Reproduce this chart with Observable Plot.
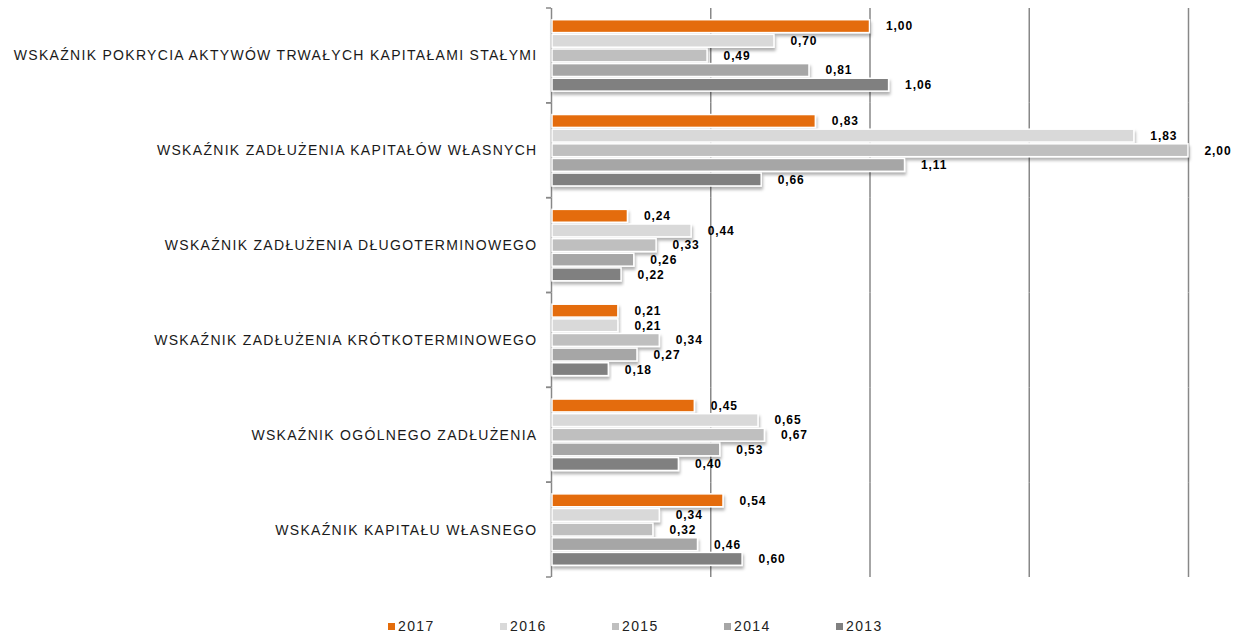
<!DOCTYPE html>
<html>
<head>
<meta charset="utf-8">
<script src="https://cdn.jsdelivr.net/npm/d3@7"></script>
<script src="https://cdn.jsdelivr.net/npm/@observablehq/plot@0.6"></script>
<style>
  html, body { margin: 0; padding: 0; background: #fff; }
  #wrap { position: relative; width: 1234px; height: 635px; font-family: "Liberation Sans", Arial, sans-serif; }
  #legend { position: absolute; left: 388px; top: 618px; display: flex; font-size: 14px; letter-spacing: 1.4px; color: #222; }
  #legend .item { width: 112px; display: flex; align-items: center; }
  #legend .sw { width: 7px; height: 7px; margin-right: 3px; }
</style>
</head>
<body>
<div id="wrap"><div id="chart"></div><div id="legend"></div></div>
<script>
const categories = [
  "WSKAŹNIK POKRYCIA AKTYWÓW TRWAŁYCH KAPITAŁAMI STAŁYMI",
  "WSKAŹNIK ZADŁUŻENIA KAPITAŁÓW WŁASNYCH",
  "WSKAŹNIK ZADŁUŻENIA DŁUGOTERMINOWEGO",
  "WSKAŹNIK ZADŁUŻENIA KRÓTKOTERMINOWEGO",
  "WSKAŹNIK OGÓLNEGO ZADŁUŻENIA",
  "WSKAŹNIK KAPITAŁU WŁASNEGO"
];
const years = ["2017", "2016", "2015", "2014", "2013"];
const values2017 = [1.00, 0.83, 0.24, 0.21, 0.45, 0.54];
const values2016 = [0.70, 1.83, 0.44, 0.21, 0.65, 0.34];
const values2015 = [0.49, 2.00, 0.33, 0.34, 0.67, 0.32];
const values2014 = [0.81, 1.11, 0.26, 0.27, 0.53, 0.46];
const values2013 = [1.06, 0.66, 0.22, 0.18, 0.40, 0.60];
const colors = ["#E46C0A", "#D9D9D9", "#BFBFBF", "#A6A6A6", "#808080"];
const gridValues = [0.5, 1, 1.5, 2];

const series = [values2017, values2016, values2015, values2014, values2013];
const table = [];
categories.forEach((c, i) => years.forEach((y, j) => table.push({category: c, year: y, value: series[j][i]})));

const fmt = v => d3.format(".2f")(v).replace(".", ",");
const axisColor = "#888888";

function boundaryTicks(index, scales, values, dimensions) {
  const {marginLeft, marginTop, height, marginBottom} = dimensions;
  const g = d3.create("svg:g").attr("stroke", axisColor).attr("stroke-width", 1.5);
  for (const y of [marginTop, height - marginBottom]) {
    g.append("line").attr("x1", marginLeft - 5).attr("x2", marginLeft).attr("y1", y).attr("y2", y);
  }
  return g.node();
}

const chart = Plot.plot({
  width: 1234,
  height: 600,
  marginLeft: 551,
  marginRight: 46,
  marginTop: 8,
  marginBottom: 23,
  style: {fontFamily: "'Liberation Sans', Arial, sans-serif", fontSize: "14px", color: "#1a1a1a", background: "white"},
  x: {domain: [0, 2], axis: null},
  y: {domain: years, axis: null, paddingInner: 0.12, paddingOuter: 0.8, round: false},
  fy: {domain: categories, label: null, axis: "left", tickSize: 0, tickPadding: 14, padding: 0, round: false},
  color: {domain: years, range: colors},
  marks: [
    Plot.ruleX(gridValues, {stroke: axisColor, strokeWidth: 1.5}),
    Plot.ruleX([0], {stroke: axisColor, strokeWidth: 1.5}),
    boundaryTicks,
    Plot.barX(table, {fy: "category", y: "year", x: "value", fill: "year", stroke: "white", strokeWidth: 1.5, insetLeft: 1}),
    Plot.text(table, {fy: "category", y: "year", x: "value", text: d => fmt(d.value), dx: 16, textAnchor: "start", fontWeight: "bold", fontSize: 12, fill: "#000"})
  ]
});

const svg = d3.select(chart);
const defs = svg.insert("defs", ":first-child");
defs.append("filter").attr("id", "shadow").attr("x", "-5%").attr("y", "-50%").attr("width", "110%").attr("height", "250%")
  .append("feDropShadow").attr("dx", 1).attr("dy", 3).attr("stdDeviation", 1.5).attr("flood-color", "#000").attr("flood-opacity", 0.3);
svg.selectAll("rect").attr("filter", "url(#shadow)");
svg.selectAll("g[aria-label='text'] text").attr("letter-spacing", "0.9px");
svg.selectAll("g[aria-label='fy-axis tick label'] text, g[aria-label='fy-axis'] text").attr("letter-spacing", "1.3px").attr("font-size", "14px");

document.getElementById("chart").appendChild(chart);

const legend = d3.select("#legend");
years.forEach((y, i) => {
  const it = legend.append("div").attr("class", "item");
  it.append("div").attr("class", "sw").style("background", colors[i]);
  it.append("span").text(y);
});
</script>
</body>
</html>
